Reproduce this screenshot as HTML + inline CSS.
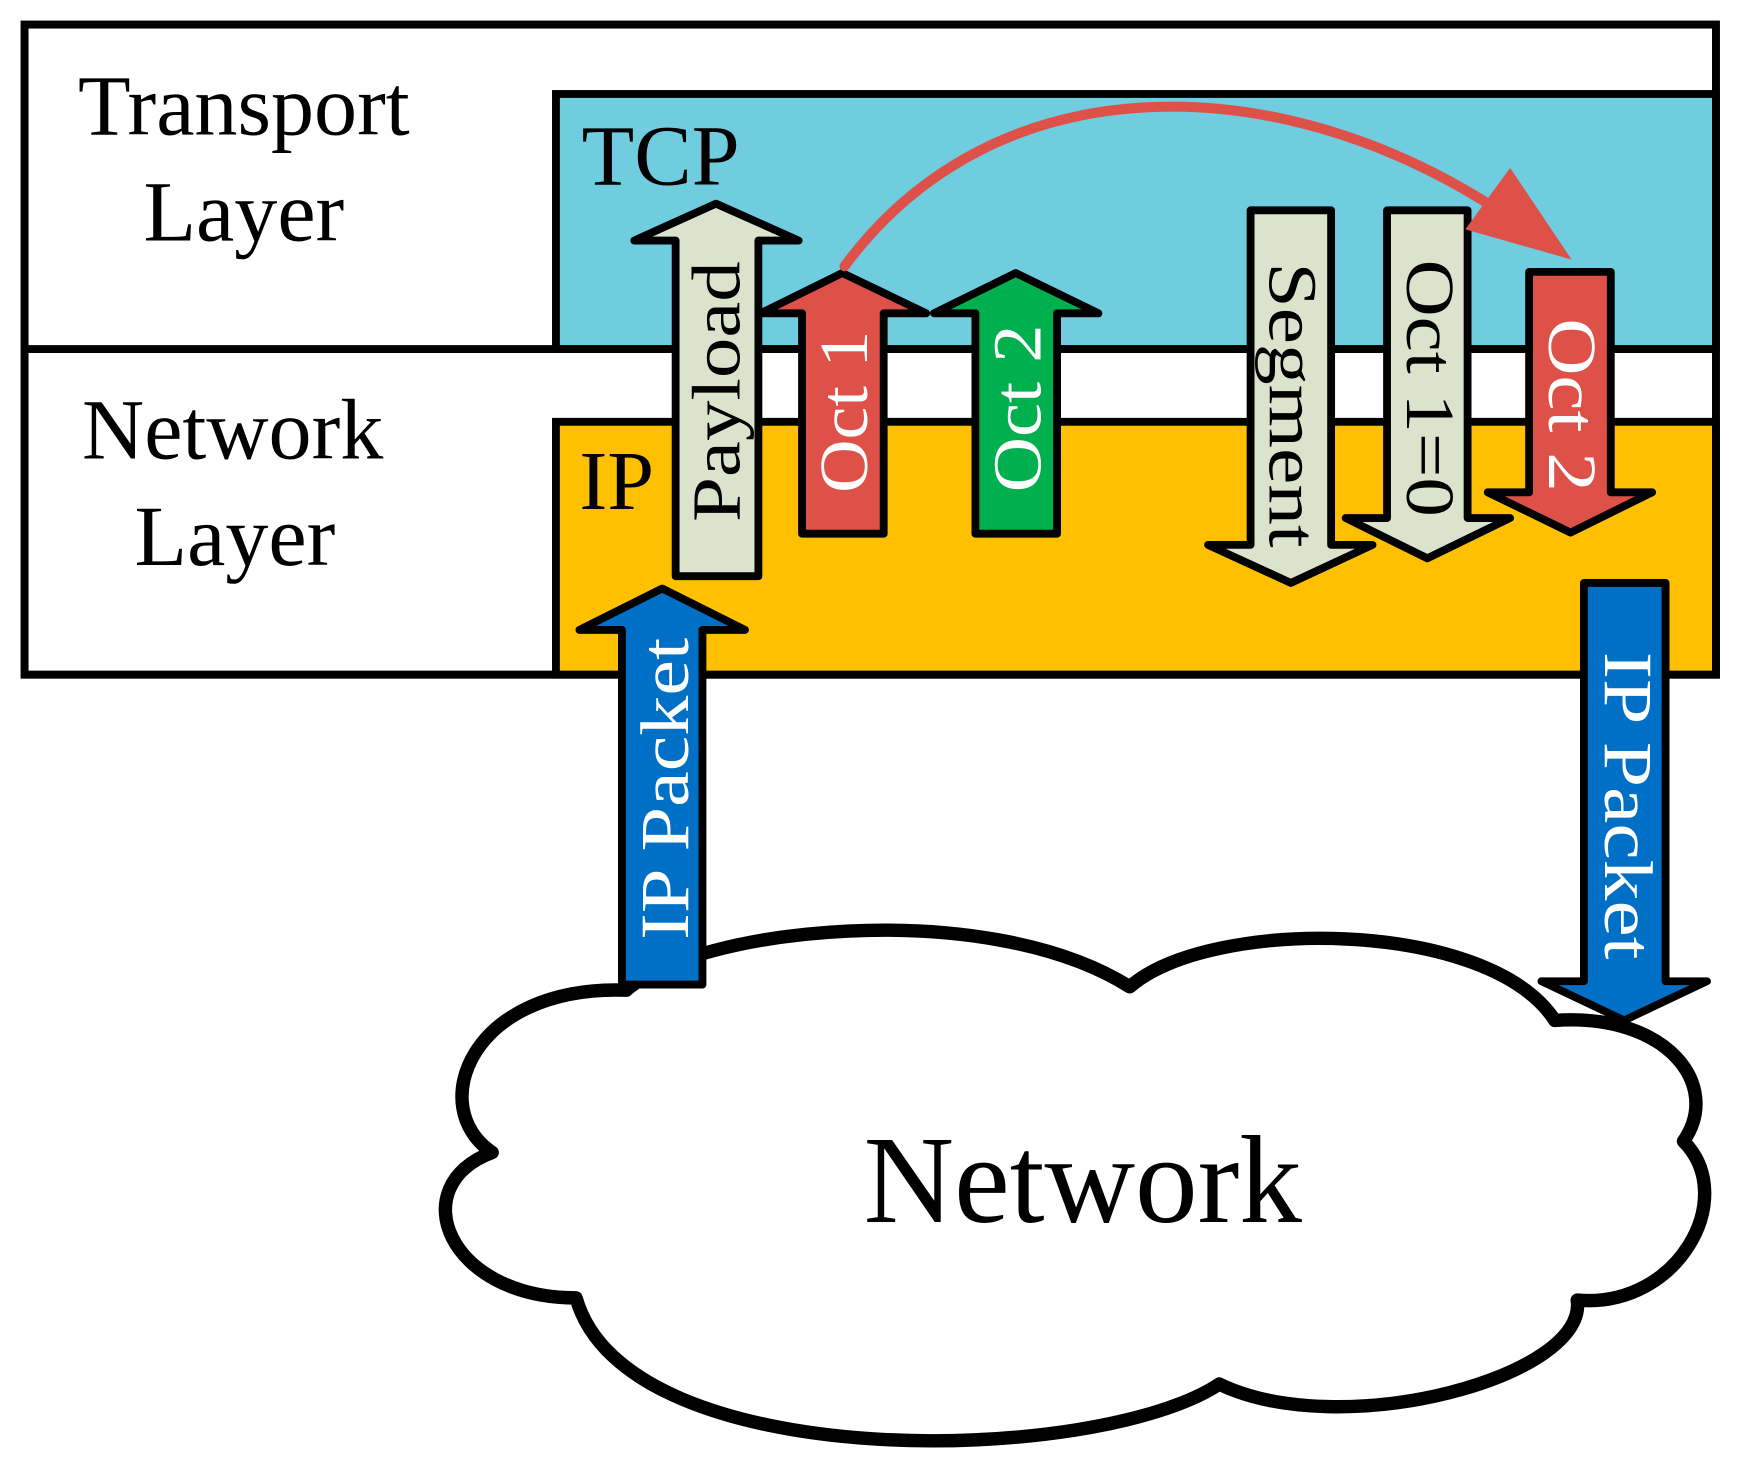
<!DOCTYPE html>
<html><head><style>html,body{margin:0;padding:0;background:#fff}svg{display:block}</style></head>
<body>
<svg width="1745" height="1459" viewBox="0 0 1560 1304" preserveAspectRatio="none" xmlns="http://www.w3.org/2000/svg" font-family="'Liberation Serif', serif">
<rect x="22" y="22" width="1512" height="581" fill="#fff" stroke="#000" stroke-width="7"/>
<rect x="497" y="84" width="1037" height="228" fill="#70cddf" stroke="#000" stroke-width="7"/>
<rect x="497" y="377" width="1037" height="226" fill="#fec000" stroke="#000" stroke-width="7"/>
<line x1="22" y1="312" x2="1534" y2="312" stroke="#000" stroke-width="7"/>
<rect x="22" y="22" width="1512" height="581" fill="none" stroke="#000" stroke-width="7"/>
<g font-size="77" text-anchor="middle">
<text x="218" y="120">Transport</text><text x="218" y="215">Layer</text>
<text x="208" y="410">Network</text><text x="210" y="505">Layer</text>
</g>
<text x="520" y="165" font-size="77">TCP</text>
<text x="518" y="455" font-size="75">IP</text>

<path d="M440,1030 C380,990 420,880 560,885 C620,830 880,800 1010,882 C1080,820 1330,820 1390,912 C1490,905 1540,970 1505,1020 C1555,1070 1500,1170 1410,1162 C1420,1230 1200,1290 1090,1237 C980,1310 560,1320 515,1160 C400,1160 360,1060 440,1030 Z" fill="#fff" stroke="#000" stroke-width="12" stroke-linejoin="round"/>
<text x="968" y="1092" font-size="112" text-anchor="middle">Network</text>

<g stroke="#000" stroke-width="7" stroke-linejoin="round">
<polygon points="604,515 604,215 567,215 640,182 714,215 678,215 678,515" fill="#dce3cd"/>
<polygon points="717,477 717,280 680,280 753,244 828,280 790,280 790,477" fill="#de5149"/>
<polygon points="872,477 872,280 835,280 908,244 982,280 945,280 945,477" fill="#00b04e"/>
<polygon points="556,880 556,563 518,563 592,526 666,563 628,563 628,880" fill="#0070c6"/>
<polygon points="1118,188 1190,188 1190,487 1227,487 1154,521 1080,487 1118,487" fill="#dce3cd"/>
<polygon points="1240,188 1312,188 1312,463 1350,463 1276,499 1203,463 1240,463" fill="#dce3cd"/>
<polygon points="1367,243 1440,243 1440,440 1477,440 1404,476 1330,440 1367,440" fill="#de5149"/>
<polygon points="1416,521 1489,521 1489,877 1526,877 1452,912 1378,877 1416,877" fill="#0070c6"/>
</g>

<path d="M755,238 C890,55 1140,60 1335,185" fill="none" stroke="#de5149" stroke-width="9" stroke-linecap="round"/>
<polygon points="1350,150 1405,232 1310,205" fill="#de5149"/>

<g font-size="62" dominant-baseline="central" text-anchor="middle">
<text transform="translate(641,350) rotate(-90)" fill="#000" textLength="233" lengthAdjust="spacingAndGlyphs">Payload</text>
<text transform="translate(755,368) rotate(-90)" fill="#fff" textLength="145" lengthAdjust="spacingAndGlyphs">Oct 1</text>
<text transform="translate(910,365) rotate(-90)" fill="#fff" textLength="150" lengthAdjust="spacingAndGlyphs">Oct 2</text>
<text transform="translate(595,705) rotate(-90)" fill="#fff" textLength="270" lengthAdjust="spacingAndGlyphs">IP Packet</text>
<text transform="translate(1155,362) rotate(90)" fill="#000" textLength="255" lengthAdjust="spacingAndGlyphs">Segment</text>
<text transform="translate(1278,347) rotate(90)" fill="#000" textLength="230" lengthAdjust="spacingAndGlyphs">Oct 1=0</text>
<text transform="translate(1405,362) rotate(90)" fill="#fff" textLength="155" lengthAdjust="spacingAndGlyphs">Oct 2</text>
<text transform="translate(1455,720) rotate(90)" fill="#fff" textLength="275" lengthAdjust="spacingAndGlyphs">IP Packet</text>
</g>
</svg>
</body></html>
